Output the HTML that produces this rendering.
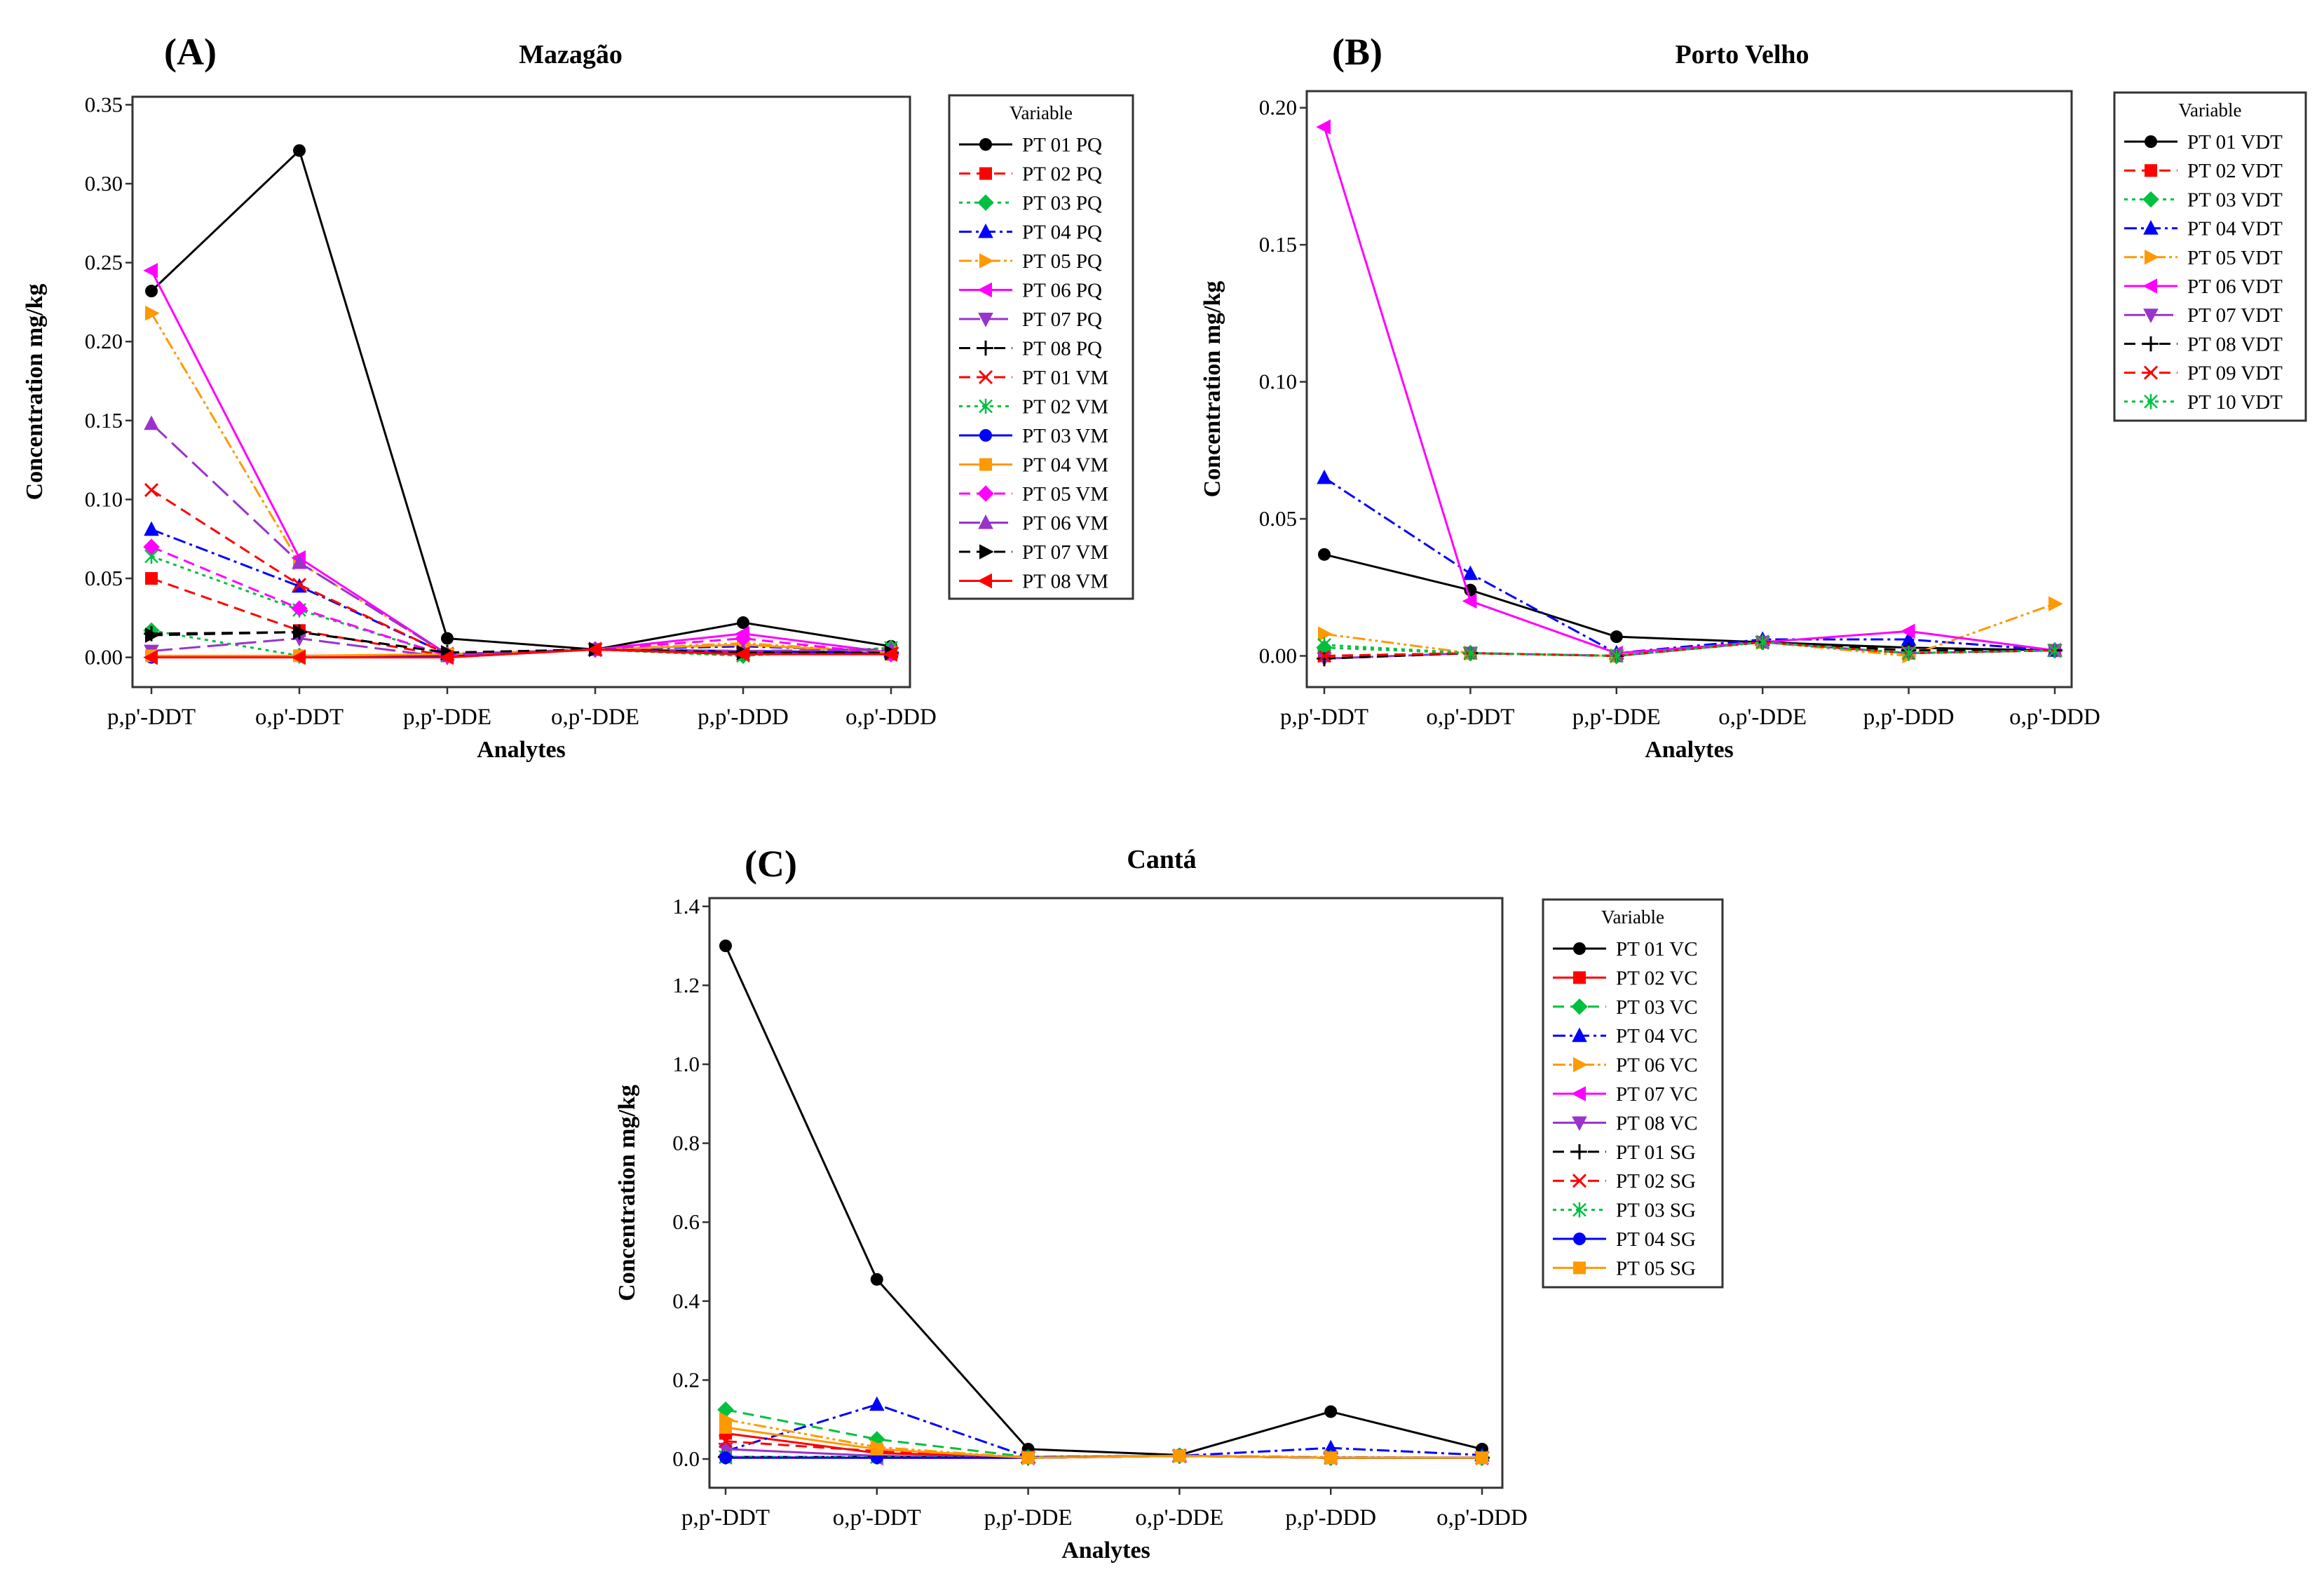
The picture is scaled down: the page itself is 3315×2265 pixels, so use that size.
<!DOCTYPE html>
<html><head><meta charset="utf-8"><style>
html,body{margin:0;padding:0;background:#fff}
svg{display:block}
text{font-family:"Liberation Serif",serif}
</style></head><body>
<svg id="chart" width="3315" height="2265" viewBox="0 0 3315 2265" xmlns="http://www.w3.org/2000/svg"></svg>
<script>
// ---- shared data ----
const categories = ["p,p'-DDT","o,p'-DDT","p,p'-DDE","o,p'-DDE","p,p'-DDD","o,p'-DDD"];

// Panel A - Mazagão
const namesA = ["PT 01 PQ","PT 02 PQ","PT 03 PQ","PT 04 PQ","PT 05 PQ","PT 06 PQ","PT 07 PQ","PT 08 PQ","PT 01 VM","PT 02 VM","PT 03 VM","PT 04 VM","PT 05 VM","PT 06 VM","PT 07 VM","PT 08 VM"];
const valuesA = [
 [0.232,0.321,0.012,0.005,0.022,0.007],
 [0.050,0.017,0.001,0.005,0.003,0.002],
 [0.017,0.001,0.001,0.005,0.001,0.006],
 [0.081,0.045,0.002,0.005,0.007,0.004],
 [0.218,0.060,0.002,0.005,0.009,0.003],
 [0.245,0.063,0.002,0.005,0.015,0.003],
 [0.004,0.012,0.000,0.005,0.003,0.002],
 [0.015,0.016,0.003,0.005,0.002,0.003],
 [0.106,0.046,0.002,0.005,0.002,0.003],
 [0.064,0.030,0.001,0.005,0.001,0.006],
 [0.000,0.001,0.001,0.005,0.004,0.003],
 [0.001,0.001,0.002,0.005,0.008,0.003],
 [0.070,0.031,0.001,0.005,0.012,0.002],
 [0.148,0.060,0.002,0.005,0.004,0.005],
 [0.014,0.016,0.003,0.005,0.003,0.003],
 [0.000,0.000,0.000,0.005,0.002,0.002]
];
const ticksA = ["0.00","0.05","0.10","0.15","0.20","0.25","0.30","0.35"];

// Panel B - Porto Velho
const namesB = ["PT 01 VDT","PT 02 VDT","PT 03 VDT","PT 04 VDT","PT 05 VDT","PT 06 VDT","PT 07 VDT","PT 08 VDT","PT 09 VDT","PT 10 VDT"];
const valuesB = [
 [0.037,0.024,0.007,0.005,0.003,0.002],
 [0.000,0.001,0.000,0.005,0.001,0.002],
 [0.003,0.001,0.000,0.005,0.001,0.002],
 [0.065,0.030,0.001,0.006,0.006,0.002],
 [0.008,0.001,0.000,0.005,0.000,0.019],
 [0.193,0.020,0.001,0.005,0.009,0.002],
 [-0.001,0.001,0.000,0.005,0.001,0.002],
 [-0.001,0.001,0.000,0.005,0.002,0.002],
 [0.000,0.001,0.000,0.005,0.001,0.002],
 [0.004,0.001,0.000,0.005,0.001,0.002]
];
const ticksB = ["0.00","0.05","0.10","0.15","0.20"];

// Panel C - Cantá
const namesC = ["PT 01 VC","PT 02 VC","PT 03 VC","PT 04 VC","PT 06 VC","PT 07 VC","PT 08 VC","PT 01 SG","PT 02 SG","PT 03 SG","PT 04 SG","PT 05 SG"];
const valuesC = [
 [1.300,0.455,0.025,0.010,0.120,0.025],
 [0.065,0.015,0.005,0.008,0.003,0.003],
 [0.125,0.050,0.005,0.008,0.003,0.003],
 [0.020,0.138,0.005,0.008,0.028,0.010],
 [0.100,0.030,0.003,0.008,0.005,0.003],
 [0.005,0.003,0.003,0.008,0.003,0.003],
 [0.025,0.008,0.003,0.008,0.003,0.003],
 [0.005,0.005,0.003,0.008,0.003,0.003],
 [0.045,0.020,0.003,0.008,0.003,0.003],
 [0.005,0.005,0.003,0.008,0.003,0.003],
 [0.003,0.003,0.003,0.008,0.003,0.003],
 [0.080,0.025,0.003,0.008,0.003,0.003]
];
const ticksC = ["0.0","0.2","0.4","0.6","0.8","1.0","1.2","1.4"];

const svg = document.getElementById('chart');
const NS = 'http://www.w3.org/2000/svg';
function mk(tag, attrs, parent){
  const e = document.createElementNS(NS, tag);
  for (const k in attrs) e.setAttribute(k, attrs[k]);
  (parent||svg).appendChild(e);
  return e;
}
const DASH = {solid:'', dash:'16,9', dot:'5,6', dashdot:'18,6,4,6', longdash:'30,10', dashdotdot:'18,5,4,5,4,5'};
// style per series slot: [colour, marker, dash]
const stylesA = [
 ['#000','circle','solid'],['#f00','square','dash'],['#00c040','diamond','dot'],['#00f','tri','dashdot'],
 ['#ff9900','right','dashdotdot'],['#ff00ff','left','solid'],['#9933cc','down','longdash'],['#000','plus','dash'],
 ['#f00','x','dash'],['#00c040','star','dot'],['#00f','circle','solid'],['#ff9900','square','solid'],
 ['#ff00ff','diamond','dash'],['#9933cc','tri','longdash'],['#000','right','dash'],['#f00','left','solid']
];
const stylesB = stylesA.slice(0,8).concat([['#f00','x','dash'],['#00c040','star','dot']]);
const stylesC = [
 ['#000','circle','solid'],['#f00','square','solid'],['#00c040','diamond','dash'],['#00f','tri','dashdot'],
 ['#ff9900','right','dashdotdot'],['#ff00ff','left','solid'],['#9933cc','down','solid'],['#000','plus','dash'],
 ['#f00','x','dash'],['#00c040','star','dot'],['#00f','circle','solid'],['#ff9900','square','solid']
];

function marker(g, type, x, y, c, s){
  s = s||9;
  let e;
  switch(type){
    case 'circle': e = mk('circle',{cx:x,cy:y,r:s,fill:c},g); break;
    case 'square': e = mk('rect',{x:x-s,y:y-s,width:2*s,height:2*s,fill:c},g); break;
    case 'diamond': e = mk('polygon',{points:`${x},${y-s*1.3} ${x+s*1.3},${y} ${x},${y+s*1.3} ${x-s*1.3},${y}`,fill:c},g); break;
    case 'tri': e = mk('polygon',{points:`${x},${y-s*1.3} ${x+s*1.2},${y+s} ${x-s*1.2},${y+s}`,fill:c},g); break;
    case 'down': e = mk('polygon',{points:`${x},${y+s*1.3} ${x+s*1.2},${y-s} ${x-s*1.2},${y-s}`,fill:c},g); break;
    case 'right': e = mk('polygon',{points:`${x+s*1.3},${y} ${x-s},${y-s*1.2} ${x-s},${y+s*1.2}`,fill:c},g); break;
    case 'left': e = mk('polygon',{points:`${x-s*1.3},${y} ${x+s},${y-s*1.2} ${x+s},${y+s*1.2}`,fill:c},g); break;
    case 'plus': e = mk('path',{d:`M${x-s*1.2},${y}H${x+s*1.2}M${x},${y-s*1.2}V${y+s*1.2}`,stroke:c,'stroke-width':3,fill:'none'},g); break;
    case 'x': e = mk('path',{d:`M${x-s},${y-s}L${x+s},${y+s}M${x-s},${y+s}L${x+s},${y-s}`,stroke:c,'stroke-width':3,fill:'none'},g); break;
    case 'star': e = mk('path',{d:`M${x-s},${y-s}L${x+s},${y+s}M${x-s},${y+s}L${x+s},${y-s}M${x},${y-s*1.2}V${y+s*1.2}`,stroke:c,'stroke-width':2.5,fill:'none'},g); break;
  }
  
  
}

function panel(cfg){
  const g = mk('g',{});
  
  
  const {L,R,T,B,y0,yPer,tickStep,xs} = cfg;
  const yScale = v => y0 - v*yPer;
  const xScale = i => xs[0] + i*(xs[1]-xs[0])/(categories.length-1);
  // letter
  const lt = mk('text',{x:cfg.letterX,y:cfg.letterY,'font-size':54,'font-weight':'bold','font-family':'"Liberation Sans",sans-serif'},g);
  lt.textContent = cfg.letter;
  
  
  const tt = mk('text',{x:cfg.titleX,y:cfg.titleY,'font-size':38,'font-weight':'bold','text-anchor':'middle'},g);
  tt.textContent = cfg.title;
  
  
  // frame
  const fr = mk('rect',{x:L,y:T,width:R-L,height:B-T,fill:'none',stroke:'#333','stroke-width':3},g);
  
  
  // y ticks
  cfg.ticks.forEach((lab,i)=>{
    const y = yScale(i*tickStep);
    mk('line',{x1:L-10,x2:L,y1:y,y2:y,stroke:'#333','stroke-width':2.5},g);
    const t = mk('text',{x:L-14,y:y+10,'font-size':31,'text-anchor':'end'},g);
    t.textContent = lab;
    
    
  });
  categories.forEach((c,i)=>{
    const x = xScale(i);
    mk('line',{x1:x,x2:x,y1:B,y2:B+10,stroke:'#333','stroke-width':2.5},g);
    const t = mk('text',{x:x,y:B+53,'font-size':33,'text-anchor':'middle'},g);
    t.textContent = c;
    
    
  });
  const xt = mk('text',{x:(L+R)/2,y:B+100,'font-size':34,'font-weight':'bold','text-anchor':'middle'},g);
  xt.textContent = 'Analytes';
  
  
  const yt = mk('text',{x:0,y:0,'font-size':34,'font-weight':'bold','text-anchor':'middle',transform:`translate(${cfg.yTitleX},${(T+B)/2}) rotate(-90)`},g);
  yt.textContent = 'Concentration mg/kg';
  
  
  // series
  cfg.values.forEach((vals,si)=>{
    const [c,m,d] = cfg.styles[si];
    const pts = vals.map((v,i)=>`${xScale(i)},${yScale(v)}`).join(' ');
    const pl = mk('polyline',{points:pts,fill:'none',stroke:c,'stroke-width':3,'stroke-dasharray':DASH[d]},g);
    
    
    vals.forEach((v,i)=>marker(g,m,xScale(i),yScale(v),c));
  });
  // legend
  const lg = mk('g',{},g);
  
  
  const [lx,ly,lw,lh,step] = cfg.legend;
  mk('rect',{x:lx,y:ly,width:lw,height:lh,fill:'#fff',stroke:'#333','stroke-width':3},lg);
  const vt = mk('text',{x:lx+lw/2,y:ly+34,'font-size':27,'text-anchor':'middle'},lg);
  vt.textContent = 'Variable';
  
  
  cfg.names.forEach((n,i)=>{
    const y = ly+70+i*step;
    const [c,m,d] = cfg.styles[i];
    const e = mk('g',{},lg);
    
    
    mk('line',{x1:lx+14,x2:lx+90,y1:y,y2:y,stroke:c,'stroke-width':3,'stroke-dasharray':DASH[d]},e);
    marker(e,m,lx+52,y,c,9);
    const t = mk('text',{x:lx+104,y:y+10,'font-size':29},e);
    t.textContent = n;
  });
}

panel({id:'panel-a-mazagao',letter:'(A)',letterX:234,letterY:92,title:'Mazagão',titleX:814,titleY:90,
  L:189,R:1298,T:138,B:980,y0:937.6,yPer:2252,tickStep:0.05,ticks:ticksA,xs:[216,1271],
  yTitleX:60,values:valuesA,names:namesA,styles:stylesA,legend:[1354,136,262,718,41.5]});
panel({id:'panel-b-porto-velho',letter:'(B)',letterX:1900,letterY:92,title:'Porto Velho',titleX:2485,titleY:90,
  L:1864,R:2955,T:130,B:980,y0:935.5,yPer:3909,tickStep:0.05,ticks:ticksB,xs:[1889,2931],
  yTitleX:1740,values:valuesB,names:namesB,styles:stylesB,legend:[3016,132,273,468,41.2]});
panel({id:'panel-c-canta',letter:'(C)',letterX:1062,letterY:1250,title:'Cantá',titleX:1657,titleY:1238,
  L:1012,R:2143,T:1281,B:2122,y0:2081,yPer:563,tickStep:0.2,ticks:ticksC,xs:[1035,2114],
  yTitleX:905,values:valuesC,names:namesC,styles:stylesC,legend:[2201,1283,256,553,41.4]});
</script>
</body></html>
